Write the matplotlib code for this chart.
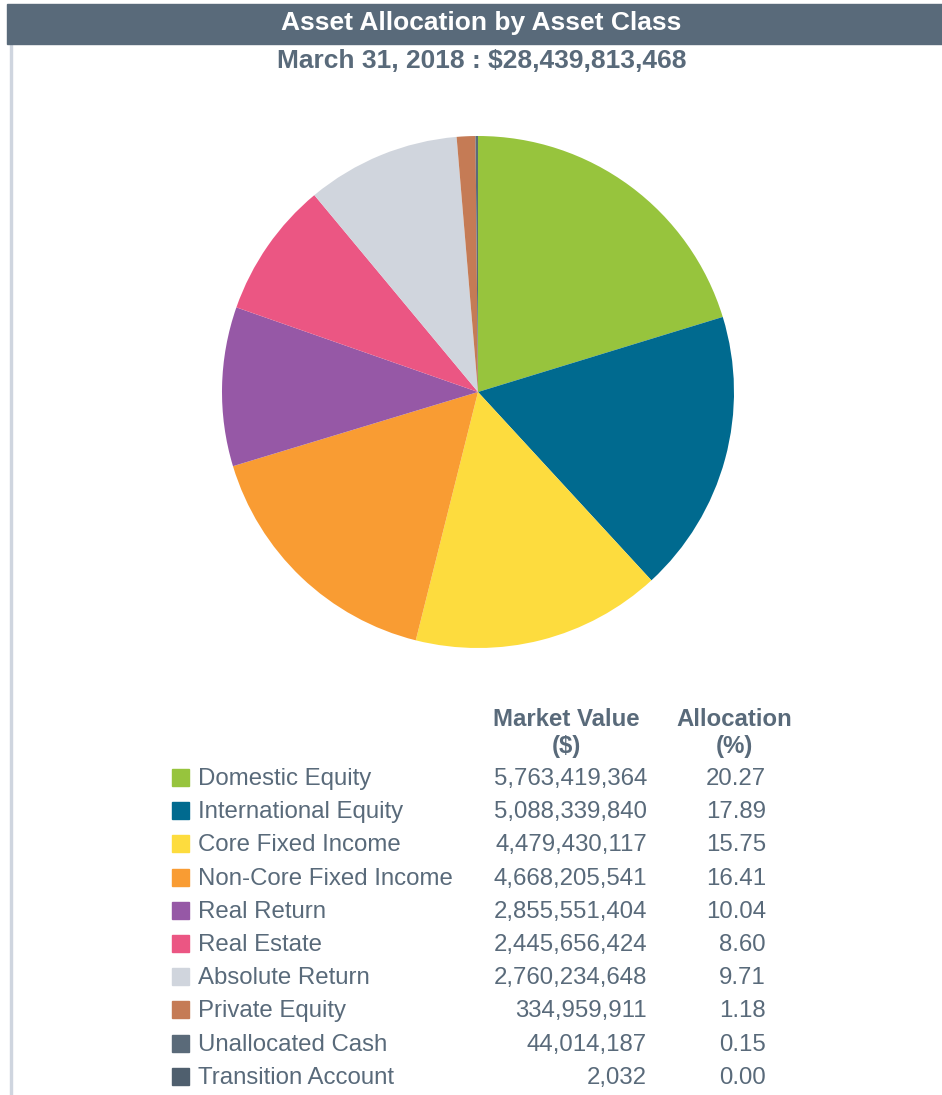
import matplotlib.pyplot as plt
from matplotlib.patches import Rectangle

plt.rcParams['font.family'] = ['Liberation Sans', 'DejaVu Sans']

# data
classes = ['Domestic Equity', 'International Equity', 'Core Fixed Income',
           'Non-Core Fixed Income', 'Real Return', 'Real Estate',
           'Absolute Return', 'Private Equity', 'Unallocated Cash',
           'Transition Account']
market_value = [5763419364, 5088339840, 4479430117, 4668205541, 2855551404,
                2445656424, 2760234648, 334959911, 44014187, 2032]
allocation = [20.27, 17.89, 15.75, 16.41, 10.04, 8.60, 9.71, 1.18, 0.15, 0.00]
colors = ['#97c43d', '#006a8f', '#fddc3e', '#f99c33', '#9658a6', '#eb5683',
          '#d0d5dd', '#c57b55', '#5a6a79', '#4f5f6e']
title = 'Asset Allocation by Asset Class'
subtitle = 'March 31, 2018 : $28,439,813,468'

W, H = 942, 1095
fig = plt.figure(figsize=(W / 100, H / 100), dpi=100)
slate = '#596a7a'


def fx(x):
    return x / W


def fy(y):
    return 1 - y / H


# frame + header bar
fig.patches.append(Rectangle((fx(10), 0), fx(2), fy(44), transform=fig.transFigure,
                             color='#cfd5df', zorder=0))
fig.patches.append(Rectangle((fx(7), fy(44)), fx(W - 7), (44 - 4) / H,
                             transform=fig.transFigure, color=slate, zorder=1))
fig.text(fx(481), fy(23), title, color='white', fontsize=19, fontweight='bold',
         ha='center', va='center')
fig.text(fx(482), fy(61), subtitle, color=slate, fontsize=19, fontweight='bold',
         ha='center', va='center')

# pie
cx, cy, r = 478, 392, 256
ax = fig.add_axes([fx(cx - r), fy(cy + r), 2 * r / W, 2 * r / H])
ax.pie(market_value, colors=colors, startangle=90, counterclock=False,
       wedgeprops=dict(linewidth=0))
ax.set_xlim(-1, 1)
ax.set_ylim(-1, 1)
ax.set_aspect('auto')
ax.axis('off')

# table headers
fig.text(fx(566), fy(719), 'Market Value', color=slate, fontsize=17.3,
         fontweight='bold', ha='center', va='center')
fig.text(fx(566), fy(746), '($)', color=slate, fontsize=17.3,
         fontweight='bold', ha='center', va='center')
fig.text(fx(734), fy(719), 'Allocation', color=slate, fontsize=17.3,
         fontweight='bold', ha='center', va='center')
fig.text(fx(734), fy(746), '(%)', color=slate, fontsize=17.3,
         fontweight='bold', ha='center', va='center')

# legend rows
for i, name in enumerate(classes):
    y = 777 + i * 33.2
    fig.patches.append(Rectangle((fx(172), fy(y + 9)), fx(17), 17 / H,
                                 transform=fig.transFigure, color=colors[i]))
    fig.text(fx(198), fy(y + 2), name, color=slate, fontsize=17.3, ha='left', va='center')
    fig.text(fx(647), fy(y + 2), f'{market_value[i]:,}', color=slate, fontsize=17.3,
             ha='right', va='center')
    fig.text(fx(766), fy(y + 2), f'{allocation[i]:.2f}', color=slate, fontsize=17.3,
             ha='right', va='center')

fig.savefig('out.png', dpi=100)
